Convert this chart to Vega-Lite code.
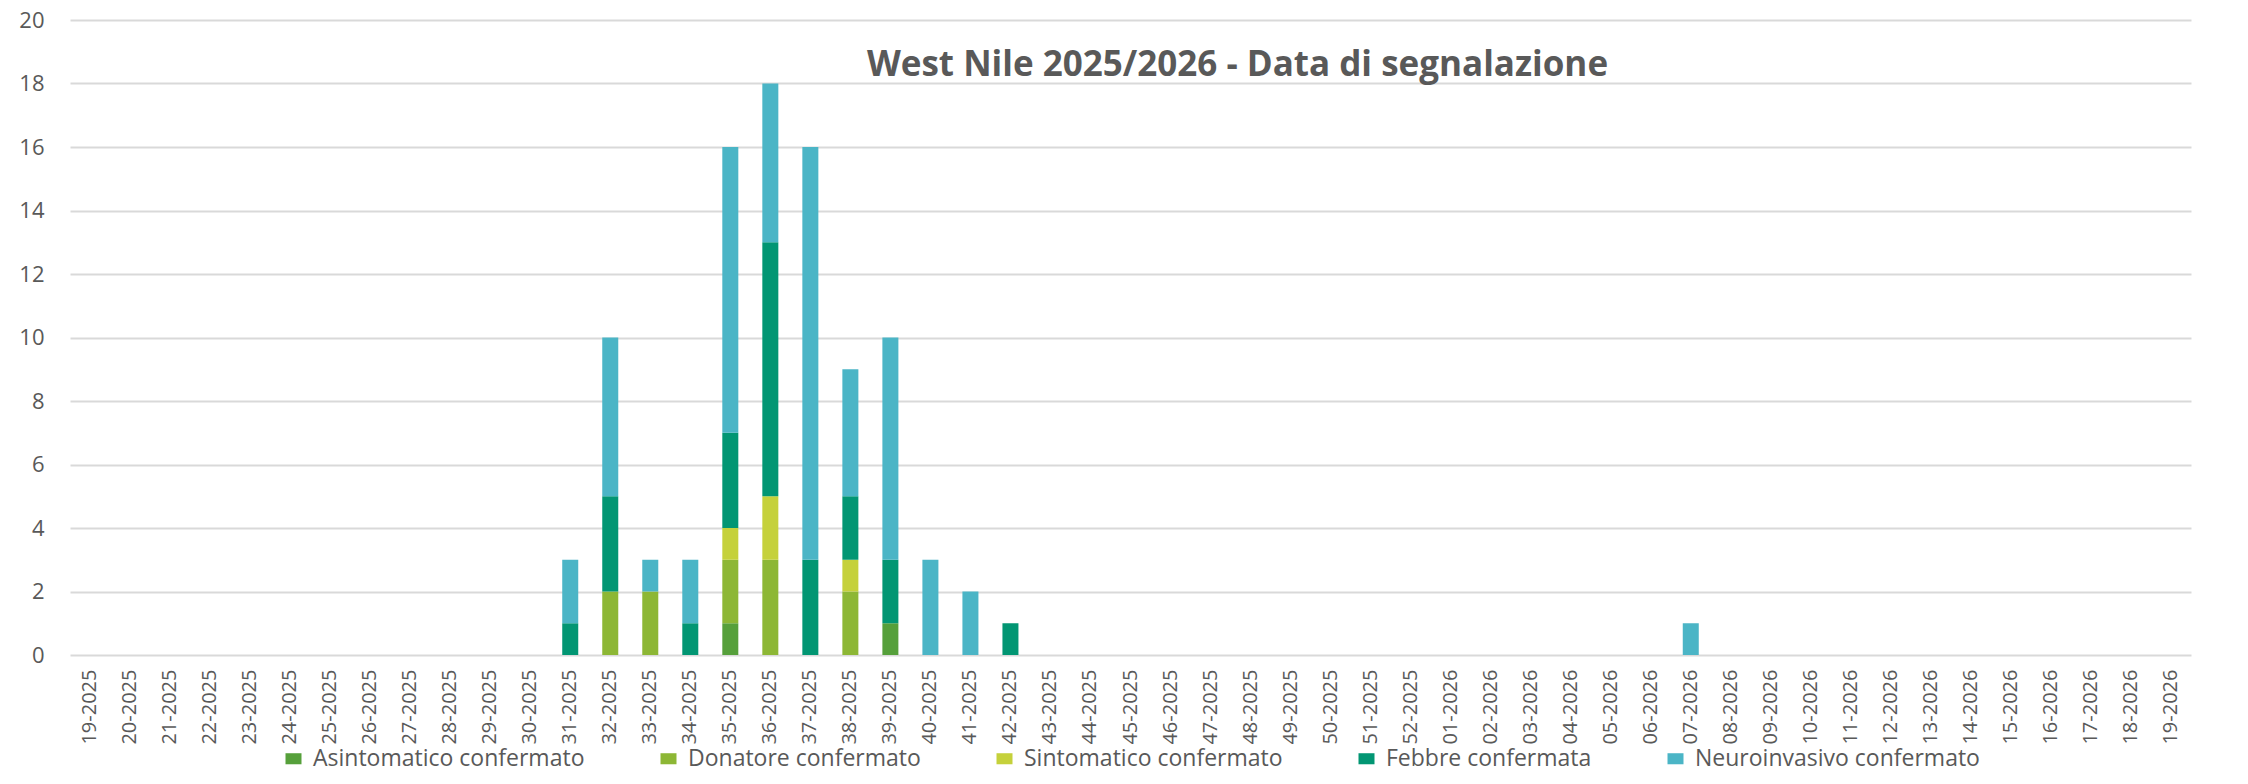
{
  "$schema": "https://vega.github.io/schema/vega-lite/v6.json",
  "width": 2121,
  "height": 635,
  "padding": {"left": 18, "top": 9, "right": 10, "bottom": 5},
  "autosize": {"type": "pad"},
  "background": "white",
  "title": {
    "text": "West Nile 2025/2026 - Data di segnalazione",
    "font": "Open Sans",
    "fontSize": 35,
    "fontWeight": "bold",
    "color": "#595959",
    "anchor": "middle",
    "frame": "group",
    "orient": "top",
    "baseline": "alphabetic",
    "offset": -60,
    "dy": 42,
    "dx": 107
  },
  "datasets": {
    "categorie": [
      {"tipo": "Asintomatico confermato", "rango": 1},
      {"tipo": "Donatore confermato", "rango": 2},
      {"tipo": "Sintomatico confermato", "rango": 3},
      {"tipo": "Febbre confermata", "rango": 4},
      {"tipo": "Neuroinvasivo confermato", "rango": 5}
    ]
  },
  "data": {
    "values": [
      {"week": "31-2025", "tipo": "Febbre confermata", "casi": 1},
      {"week": "31-2025", "tipo": "Neuroinvasivo confermato", "casi": 2},
      {"week": "32-2025", "tipo": "Donatore confermato", "casi": 2},
      {"week": "32-2025", "tipo": "Febbre confermata", "casi": 3},
      {"week": "32-2025", "tipo": "Neuroinvasivo confermato", "casi": 5},
      {"week": "33-2025", "tipo": "Donatore confermato", "casi": 2},
      {"week": "33-2025", "tipo": "Neuroinvasivo confermato", "casi": 1},
      {"week": "34-2025", "tipo": "Febbre confermata", "casi": 1},
      {"week": "34-2025", "tipo": "Neuroinvasivo confermato", "casi": 2},
      {"week": "35-2025", "tipo": "Asintomatico confermato", "casi": 1},
      {"week": "35-2025", "tipo": "Donatore confermato", "casi": 2},
      {"week": "35-2025", "tipo": "Sintomatico confermato", "casi": 1},
      {"week": "35-2025", "tipo": "Febbre confermata", "casi": 3},
      {"week": "35-2025", "tipo": "Neuroinvasivo confermato", "casi": 9},
      {"week": "36-2025", "tipo": "Donatore confermato", "casi": 3},
      {"week": "36-2025", "tipo": "Sintomatico confermato", "casi": 2},
      {"week": "36-2025", "tipo": "Febbre confermata", "casi": 8},
      {"week": "36-2025", "tipo": "Neuroinvasivo confermato", "casi": 5},
      {"week": "37-2025", "tipo": "Febbre confermata", "casi": 3},
      {"week": "37-2025", "tipo": "Neuroinvasivo confermato", "casi": 13},
      {"week": "38-2025", "tipo": "Donatore confermato", "casi": 2},
      {"week": "38-2025", "tipo": "Sintomatico confermato", "casi": 1},
      {"week": "38-2025", "tipo": "Febbre confermata", "casi": 2},
      {"week": "38-2025", "tipo": "Neuroinvasivo confermato", "casi": 4},
      {"week": "39-2025", "tipo": "Asintomatico confermato", "casi": 1},
      {"week": "39-2025", "tipo": "Febbre confermata", "casi": 2},
      {"week": "39-2025", "tipo": "Neuroinvasivo confermato", "casi": 7},
      {"week": "40-2025", "tipo": "Neuroinvasivo confermato", "casi": 3},
      {"week": "41-2025", "tipo": "Neuroinvasivo confermato", "casi": 2},
      {"week": "42-2025", "tipo": "Febbre confermata", "casi": 1},
      {"week": "07-2026", "tipo": "Neuroinvasivo confermato", "casi": 1}
    ]
  },
  "transform": [
    {"lookup": "tipo", "from": {"data": {"name": "categorie"}, "key": "tipo", "fields": ["rango"]}}
  ],
  "mark": {"type": "bar"},
  "encoding": {
    "x": {
      "field": "week",
      "type": "nominal",
      "title": null,
      "scale": {
        "domain": ["19-2025","20-2025","21-2025","22-2025","23-2025","24-2025","25-2025","26-2025","27-2025","28-2025","29-2025","30-2025","31-2025","32-2025","33-2025","34-2025","35-2025","36-2025","37-2025","38-2025","39-2025","40-2025","41-2025","42-2025","43-2025","44-2025","45-2025","46-2025","47-2025","48-2025","49-2025","50-2025","51-2025","52-2025","01-2026","02-2026","03-2026","04-2026","05-2026","06-2026","07-2026","08-2026","09-2026","10-2026","11-2026","12-2026","13-2026","14-2026","15-2026","16-2026","17-2026","18-2026","19-2026"],
        "paddingInner": 0.6,
        "paddingOuter": 0.3
      },
      "axis": {
        "labelAngle": -90,
        "labelFont": "Open Sans",
        "labelFontSize": 20,
        "labelColor": "#595959",
        "labelPadding": 14,
        "ticks": false,
        "domain": false,
        "grid": false
      }
    },
    "y": {
      "field": "casi",
      "type": "quantitative",
      "aggregate": "sum",
      "stack": "zero",
      "title": null,
      "scale": {"domain": [0, 20], "nice": false},
      "axis": {
        "values": [0, 2, 4, 6, 8, 10, 12, 14, 16, 18, 20],
        "labelFont": "Open Sans",
        "labelFontSize": 22,
        "labelColor": "#595959",
        "labelPadding": 26,
        "ticks": false,
        "domain": false,
        "grid": true,
        "gridColor": "#d9d9d9",
        "gridWidth": 2
      }
    },
    "color": {
      "field": "tipo",
      "type": "nominal",
      "sort": ["Asintomatico confermato", "Donatore confermato", "Sintomatico confermato", "Febbre confermata", "Neuroinvasivo confermato"],
      "scale": {
        "domain": ["Asintomatico confermato", "Donatore confermato", "Sintomatico confermato", "Febbre confermata", "Neuroinvasivo confermato"],
        "range": ["#56a03b", "#8db735", "#c5d13b", "#029673", "#4bb5c6"]
      },
      "legend": {
        "title": null,
        "orient": "bottom",
        "direction": "horizontal",
        "labelFont": "Open Sans",
        "labelFontSize": 23,
        "labelColor": "#595959",
        "labelLimit": 0,
        "labelOffset": 8,
        "columnPadding": 72,
        "symbolType": "M-1,-0.69L1,-0.69L1,0.69L-1,0.69Z",
        "symbolSize": 256,
        "symbolStrokeWidth": 0,
        "offset": 2
      }
    },
    "order": {"field": "rango", "type": "quantitative", "sort": "ascending"}
  },
  "config": {
    "view": {"stroke": null},
    "legend": {"layout": {"anchor": "middle"}}
  }
}
